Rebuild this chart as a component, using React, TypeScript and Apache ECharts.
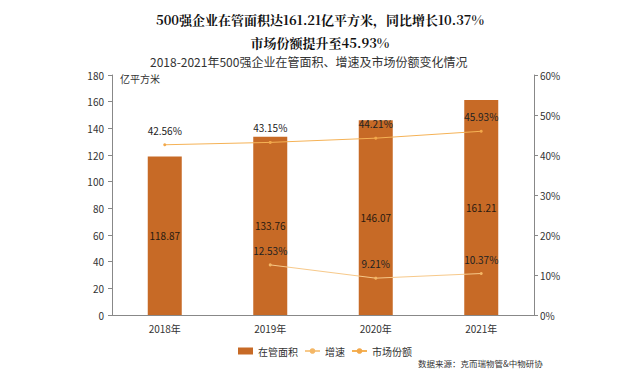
import React, { useEffect, useRef } from "react";
import * as echarts from "echarts";

const categories = ["2018年", "2019年", "2020年", "2021年"];
const area = [118.87, 133.76, 146.07, 161.21];
const growth: (number | null)[] = [null, 12.53, 9.21, 10.37];
const share = [42.56, 43.15, 44.21, 45.93];

export default function App() {
  const ref = useRef<HTMLDivElement>(null);
  useEffect(() => {
    const chart = echarts.init(ref.current!, null, { renderer: "svg" });
    const font = "'Microsoft YaHei', 'Noto Sans CJK SC', sans-serif";
    const serif = "'Noto Serif CJK SC', 'Noto Sans CJK SC', serif";
    chart.setOption({
      animation: false,
      backgroundColor: "#ffffff",
      textStyle: { fontFamily: font },
      title: [
        {
          text: "500强企业在管面积达161.21亿平方米，同比增长10.37%",
          left: "center",
          top: 8,
          textStyle: { fontSize: 13, fontWeight: "bold", color: "#111", fontFamily: serif },
        },
        {
          text: "市场份额提升至45.93%",
          left: "center",
          top: 31,
          textStyle: { fontSize: 13, fontWeight: "bold", color: "#111", fontFamily: serif },
        },
        {
          text: "2018-2021年500强企业在管面积、增速及市场份额变化情况",
          left: 145,
          top: 50,
          textStyle: { fontSize: 12, fontWeight: "normal", color: "#333" },
        },
        {
          text: "数据来源：克而瑞物管&中物研协",
          left: 413,
          top: 354,
          textStyle: { fontSize: 8.5, fontWeight: "normal", color: "#333" },
        },
      ],
      grid: { left: 112, right: 106, top: 75, bottom: 58 },
      legend: {
        left: 233,
        top: 341,
        itemGap: 6,
        itemWidth: 15,
        itemHeight: 7,
        textStyle: { fontSize: 10, color: "#333" },
        data: [
          { name: "在管面积", icon: "rect" },
          { name: "增速" },
          { name: "市场份额" },
        ],
      },
      xAxis: {
        type: "category",
        data: categories,
        axisLine: { lineStyle: { color: "#888" } },
        axisTick: { show: false },
        axisLabel: { fontSize: 10, color: "#333", margin: 8 },
      },
      yAxis: [
        {
          type: "value",
          min: 0,
          max: 180,
          interval: 20,
          name: "亿平方米",
          nameLocation: "end",
          nameGap: -8,
          nameTextStyle: { fontSize: 10, color: "#333", align: "left", padding: [0, 0, 0, 8] },
          axisLine: { show: true, lineStyle: { color: "#888" } },
          axisTick: { show: true, length: 4, lineStyle: { color: "#888" } },
          axisLabel: { fontSize: 10, color: "#333", margin: 8 },
          splitLine: { show: false },
        },
        {
          type: "value",
          min: 0,
          max: 60,
          interval: 10,
          position: "right",
          axisLine: { show: true, lineStyle: { color: "#888" } },
          axisTick: { show: true, length: 4, lineStyle: { color: "#888" } },
          axisLabel: { fontSize: 10, color: "#333", margin: 6, formatter: "{value}%" },
          splitLine: { show: false },
        },
      ],
      series: [
        {
          name: "在管面积",
          type: "bar",
          data: area,
          barWidth: 34,
          itemStyle: { color: "#C76A26" },
          label: {
            show: true,
            position: "inside",
            fontSize: 10,
            color: "#2a1a10",
            formatter: (p: any) => p.value.toFixed(2),
          },
        },
        {
          name: "增速",
          type: "line",
          yAxisIndex: 1,
          data: growth,
          symbol: "circle",
          symbolSize: 3,
          lineStyle: { color: "#F7C98A", width: 1 },
          itemStyle: { color: "#F4B766" },
          label: {
            show: true,
            position: "top",
            distance: 8,
            fontSize: 10,
            color: "#222",
            formatter: (p: any) => p.value.toFixed(2) + "%",
          },
        },
        {
          name: "市场份额",
          type: "line",
          yAxisIndex: 1,
          data: share,
          symbol: "circle",
          symbolSize: 3,
          lineStyle: { color: "#F5B256", width: 1 },
          itemStyle: { color: "#F2A84A" },
          label: {
            show: true,
            position: "top",
            distance: 8,
            fontSize: 10,
            color: "#222",
            formatter: (p: any) => p.value.toFixed(2) + "%",
          },
        },
      ],
    });
    return () => chart.dispose();
  }, []);
  return <div ref={ref} style={{ width: 640, height: 373, position: "absolute", left: 0, top: 0 }} />;
}
